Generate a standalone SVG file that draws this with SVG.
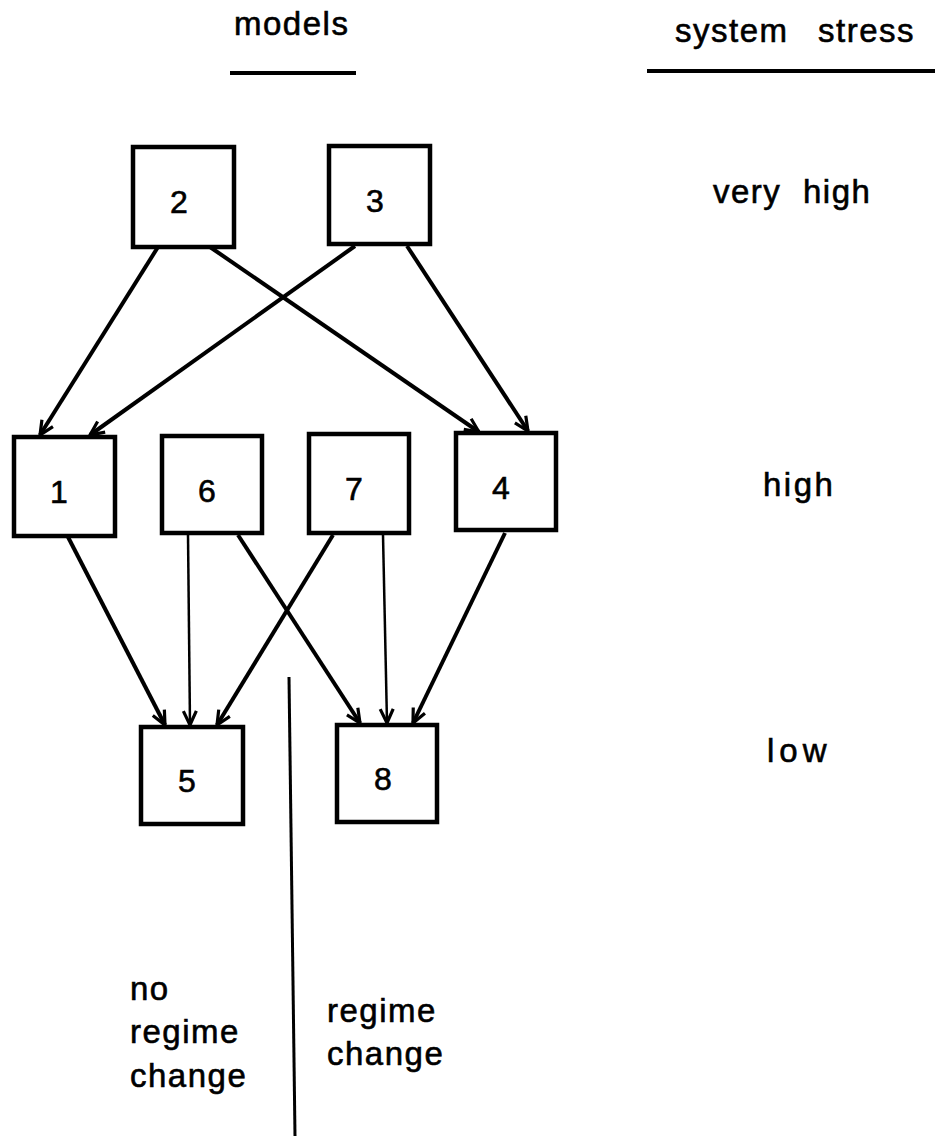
<svg xmlns="http://www.w3.org/2000/svg" width="935" height="1136" viewBox="0 0 935 1136">
  <style>
    .box { fill: #fff; stroke: #000; stroke-width: 4.5; }
    .lbl { font-family: "Liberation Sans", Arial, sans-serif; font-size: 32px; fill: #000; stroke: #000; stroke-width: 0.6; text-anchor: middle; }
    .txt { font-family: "Liberation Sans", Arial, sans-serif; font-size: 33px; fill: #000; stroke: #000; stroke-width: 0.6; letter-spacing: 1.5px; }
    .edge { stroke: #000; stroke-width: 4; fill: none; marker-end: url(#arr); }
    .thin { stroke-width: 2.5; }
    .rule { stroke: #000; stroke-width: 4; }
  </style>
  <defs>
    <marker id="arr" markerUnits="userSpaceOnUse" viewBox="0 0 18 18" refX="16" refY="9" markerWidth="18" markerHeight="18" orient="auto">
      <path d="M2,2.5 L16,9 L2,15.5" fill="none" stroke="#000" stroke-width="3.2"/>
    </marker>
  </defs>

  <g id="headers">
    <text class="txt" x="234" y="35">models</text>
    <line class="rule" x1="230" y1="73" x2="356" y2="73"/>
    <text class="txt" x="675" y="42">system<tspan x="818">stress</tspan></text>
    <line class="rule" x1="647" y1="71" x2="935" y2="71"/>
  </g>

  <g id="stress-levels">
    <text class="txt" x="713" y="203">very<tspan x="803">high</tspan></text>
    <text class="txt" x="763" y="496" style="letter-spacing:2.5px">high</text>
    <text class="txt" x="767" y="762" style="letter-spacing:5px">low</text>
  </g>

  <g id="connectors">
    <line class="edge" x1="158" y1="247" x2="40" y2="435"/>
    <line class="edge" x1="210" y1="247" x2="479" y2="432"/>
    <line class="edge" x1="355" y1="246" x2="90" y2="435"/>
    <line class="edge" x1="407" y1="246" x2="528" y2="431"/>
    <line class="edge" x1="68" y1="537" x2="165" y2="725"/>
    <line class="edge thin" x1="188" y1="535" x2="190" y2="725"/>
    <line class="edge" x1="238" y1="535" x2="360" y2="723"/>
    <line class="edge" x1="333" y1="535" x2="217" y2="725"/>
    <line class="edge thin" x1="383" y1="535" x2="387" y2="723"/>
    <line class="edge" x1="505" y1="533" x2="413" y2="723"/>
  </g>

  <g id="node-2"><rect class="box" x="133" y="147" width="101" height="100"/><text class="lbl" x="179" y="213">2</text></g>
  <g id="node-3"><rect class="box" x="329" y="146" width="101" height="98"/><text class="lbl" x="375" y="212">3</text></g>
  <g id="node-1"><rect class="box" x="14" y="437" width="101" height="99"/><text class="lbl" x="59" y="503">1</text></g>
  <g id="node-6"><rect class="box" x="162" y="436" width="100" height="97"/><text class="lbl" x="207" y="502">6</text></g>
  <g id="node-7"><rect class="box" x="309" y="434" width="100" height="99"/><text class="lbl" x="354" y="500">7</text></g>
  <g id="node-4"><rect class="box" x="456" y="433" width="100" height="97"/><text class="lbl" x="501" y="499">4</text></g>
  <g id="node-5"><rect class="box" x="141" y="727" width="102" height="97"/><text class="lbl" x="187" y="792">5</text></g>
  <g id="node-8"><rect class="box" x="337" y="725" width="100" height="97"/><text class="lbl" x="383" y="790">8</text></g>

  <g id="regime-divider">
    <line x1="289" y1="677" x2="295" y2="1136" stroke="#000" stroke-width="3"/>
    <text class="txt" x="130" y="1000">no</text>
    <text class="txt" x="130" y="1043">regime</text>
    <text class="txt" x="130" y="1087">change</text>
    <text class="txt" x="327" y="1022">regime</text>
    <text class="txt" x="327" y="1065">change</text>
  </g>
</svg>
